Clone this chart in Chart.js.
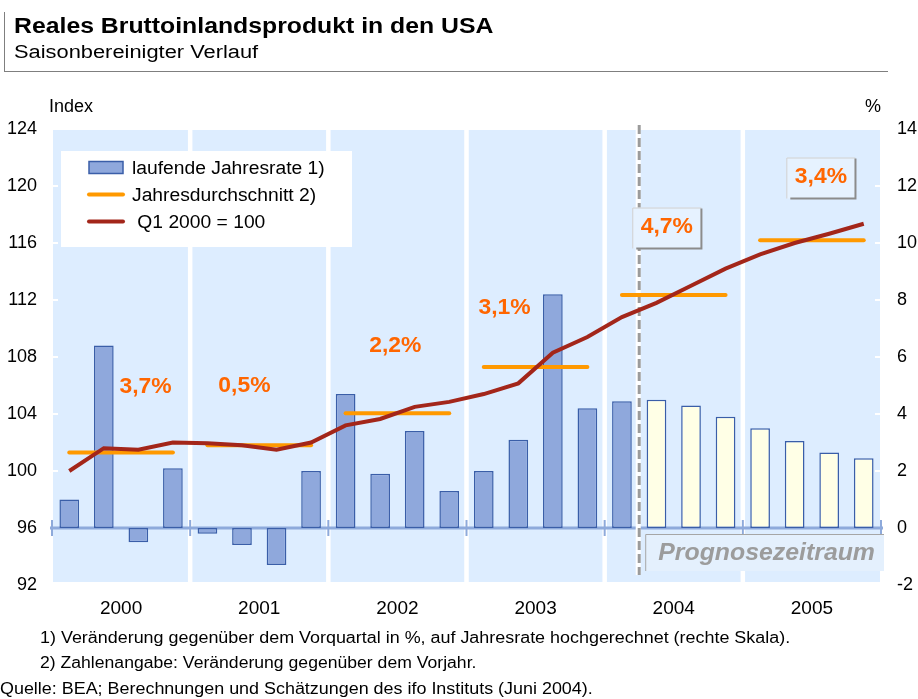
<!DOCTYPE html>
<html><head><meta charset="utf-8">
<script src="https://cdn.jsdelivr.net/npm/chart.js@4.4.1/dist/chart.umd.min.js"></script>
<style>
html,body{margin:0;padding:0;background:#fff;}
#wrap{position:relative;width:918px;height:699px;overflow:hidden;font-family:"Liberation Sans",Arial,sans-serif;}
#c{position:absolute;left:0;top:0;}
.t{position:absolute;white-space:nowrap;line-height:1;transform-origin:0 0;color:#000;}
.ln{position:absolute;background:#7f7f7f;}
</style></head><body>
<div id="wrap">
<canvas id="c" width="918" height="699"></canvas>
<div class="ln" style="left:4px;top:12px;width:1px;height:60px;"></div>
<div class="ln" style="left:4px;top:71px;width:884px;height:1px;"></div>
<div class="t" id="title" style="left:14px;top:14.5px;font-size:22px;font-weight:bold;">Reales Bruttoinlandsprodukt in den USA</div>
<div class="t" id="sub" style="left:14px;top:43px;font-size:18px;">Saisonbereinigter Verlauf</div>
<div class="t" id="lIdx" style="left:49px;top:97px;font-size:18px;">Index</div>
<div class="t" id="lPct" style="left:865px;top:97px;font-size:18px;">%</div>
<div class="t" id="f1" style="left:40px;top:630px;font-size:16px;">1) Veränderung gegenüber dem Vorquartal in %, auf Jahresrate hochgerechnet (rechte Skala).</div>
<div class="t" id="f2" style="left:40px;top:655px;font-size:16px;">2) Zahlenangabe: Veränderung gegenüber dem Vorjahr.</div>
<div class="t" id="f3" style="left:0px;top:681px;font-size:16px;">Quelle: BEA; Berechnungen und Schätzungen des ifo Instituts (Juni 2004).</div>
</div>
<script>
// ---- data ----
const quarters = ['Q1 2000','Q2 2000','Q3 2000','Q4 2000','Q1 2001','Q2 2001','Q3 2001','Q4 2001',
  'Q1 2002','Q2 2002','Q3 2002','Q4 2002','Q1 2003','Q2 2003','Q3 2003','Q4 2003',
  'Q1 2004','Q2 2004','Q3 2004','Q4 2004','Q1 2005','Q2 2005','Q3 2005','Q4 2005'];
const years = ['2000','2001','2002','2003','2004','2005'];
const growthRate = [1.0, 6.4, -0.5, 2.1, -0.2, -0.6, -1.3, 2.0, 4.7, 1.9, 3.4, 1.3, 2.0, 3.1, 8.2, 4.2, 4.45, 4.5, 4.3, 3.9, 3.5, 3.05, 2.65, 2.45];
const forecastStart = 17;
const indexQ1_2000 = [100.0, 101.6, 101.5, 102.0, 101.95, 101.8, 101.5, 102.0, 103.2, 103.65, 104.5, 104.85, 105.4, 106.15, 108.3, 109.4, 110.8, 111.8, 113.0, 114.2, 115.2, 116.0, 116.65, 117.35];
const annualAvg = [101.3, 101.8, 104.05, 107.3, 112.35, 116.2];
const annualGrowthText = ['3,7%','0,5%','2,2%','3,1%','4,7%','3,4%'];
const annualGrowthQ = [2.21, 5.07, 9.44, 12.6, 17.3, 21.76];
const annualGrowthY = [105.9, 105.95, 108.8, 111.44, 117.12, 120.63];
const annualGrowthBoxed = [false, false, false, false, true, true];
const leftTicks = {min: 92, max: 124, step: 4};
const rightTicks = {min: -2, max: 14, step: 2};
const forecastLabel = 'Prognosezeitraum';

// ---- styles ----
const FONT = '"Liberation Sans", Arial, sans-serif';
const BAR = '#8fa8dc', BARB = '#3a5ea8', FORE = '#ffffe6', ORANGE = '#ff9900', RED = '#a3261a';
const BAND = '#ddedff', AXIS = '#8eaadb', PCT = '#ff6600';

// fit HTML texts horizontally
function fit(id, w){ const el=document.getElementById(id); el.style.transform='scaleX('+(w/el.offsetWidth)+')'; }
function scl(id, k){ document.getElementById(id).style.transform='scaleX('+k+')'; }
fit('title', 479); fit('sub', 244);
scl('f1', 1.12); scl('f2', 1.1); scl('f3', 1.12);

const avgQ = [];
annualAvg.forEach(v => { for (let k=0;k<4;k++) avgQ.push(v); });

function sText(ctx, txt, x, y, font, color, k){
  ctx.save(); ctx.font = font; ctx.fillStyle = color; ctx.textBaseline='middle'; ctx.textAlign='left';
  const w = ctx.measureText(txt).width * k;
  ctx.translate(x - w/2, y); ctx.scale(k,1); ctx.fillText(txt,0,0); ctx.restore();
  return w;
}

const bgPlugin = {
  id:'bg',
  beforeDatasetsDraw(chart){
    const ctx = chart.ctx, a = chart.chartArea, x = chart.scales.x, y1 = chart.scales.y1, y = chart.scales.y;
    const step = x.getPixelForValue(1) - x.getPixelForValue(0);
    ctx.save();
    ctx.fillStyle = BAND;
    for (let i=0;i<years.length;i++){
      const x0 = x.getPixelForValue(i*4) - step/2, x1 = x.getPixelForValue(i*4+3) + step/2;
      const l = i===0 ? x0+1 : x0+2.25, r = i===years.length-1 ? x1-1 : x1-2.25;
      ctx.fillRect(l, a.top+1, r-l, a.bottom-4-a.top);
    }
    // small white inner ticks
    ctx.strokeStyle='#fff'; ctx.lineWidth=2;
    for (let v=leftTicks.min+leftTicks.step; v<leftTicks.max; v+=leftTicks.step){
      const py = Math.round(y.getPixelForValue(v));
      ctx.beginPath(); ctx.moveTo(a.left, py); ctx.lineTo(a.left+6, py); ctx.stroke();
      ctx.beginPath(); ctx.moveTo(a.right-6, py); ctx.lineTo(a.right, py); ctx.stroke();
    }
    // zero axis
    const y0 = y1.getPixelForValue(0);
    ctx.strokeStyle = AXIS; ctx.lineWidth = 3;
    ctx.beginPath(); ctx.moveTo(a.left-2, y0); ctx.lineTo(a.right+2, y0); ctx.stroke();
    ctx.lineWidth = 2;
    for (let i=0;i<=years.length;i++){
      const bx = x.getPixelForValue(i*4) - step/2;
      ctx.beginPath(); ctx.moveTo(bx, y0-8); ctx.lineTo(bx, y0+8); ctx.stroke();
    }
    // forecast divider
    const xd = (x.getPixelForValue(forecastStart-1) + x.getPixelForValue(forecastStart))/2;
    ctx.strokeStyle='#fff'; ctx.lineWidth=5;
    ctx.beginPath(); ctx.moveTo(xd-1, a.top-4); ctx.lineTo(xd-1, y0+47); ctx.stroke();
    ctx.strokeStyle='#9b9b9b'; ctx.lineWidth=3; ctx.setLineDash([9,4]);
    ctx.beginPath(); ctx.moveTo(xd, a.top-4); ctx.lineTo(xd, y0+47); ctx.stroke();
    ctx.setLineDash([]);
    ctx.restore();
  }
};

const fgPlugin = {
  id:'fg',
  afterDatasetsDraw(chart){
    const ctx = chart.ctx, a = chart.chartArea, x = chart.scales.x, y = chart.scales.y, y1 = chart.scales.y1;
    const step = x.getPixelForValue(1) - x.getPixelForValue(0);
    ctx.save();
    // annual growth labels
    const pf = 'bold 22px ' + FONT, pk = 1.04;
    for (let i=0;i<annualGrowthText.length;i++){
      const cx = x.getPixelForValue(0) + annualGrowthQ[i]*step, cy = y.getPixelForValue(annualGrowthY[i]);
      if (annualGrowthBoxed[i]){
        ctx.font = pf; const w = ctx.measureText(annualGrowthText[i]).width*pk + 17, h = 41;
        const l = cx - w/2, t = cy - h/2 + 1;
        ctx.fillStyle = '#e6f2ff'; ctx.fillRect(l, t, w, h);
        ctx.strokeStyle = '#d0d0d0'; ctx.lineWidth = 1;
        ctx.beginPath(); ctx.moveTo(l+0.5, t+h); ctx.lineTo(l+0.5, t+0.5); ctx.lineTo(l+w, t+0.5); ctx.stroke();
        ctx.strokeStyle = '#8c8c8c'; ctx.lineWidth = 2;
        ctx.beginPath(); ctx.moveTo(l+w, t+1); ctx.lineTo(l+w, t+h); ctx.lineTo(l+4, t+h); ctx.stroke();
      }
      sText(ctx, annualGrowthText[i], cx, cy, pf, PCT, pk);
    }
    // forecast box
    const y0 = y1.getPixelForValue(0);
    const xd = (x.getPixelForValue(forecastStart-1) + x.getPixelForValue(forecastStart))/2;
    const bl = xd + 6, br = a.right + 3, bt = y0 + 6, bb = y0 + 43;
    ctx.fillStyle = '#e4f0fd'; ctx.fillRect(bl, bt, br-bl, bb-bt);
    ctx.strokeStyle = '#a6a6a6'; ctx.lineWidth = 1;
    ctx.beginPath(); ctx.moveTo(bl+0.5, bb); ctx.lineTo(bl+0.5, bt+0.5); ctx.lineTo(br, bt+0.5); ctx.stroke();
    sText(ctx, forecastLabel, (bl+br)/2 + 2, (bt+bb)/2 + 1, 'italic bold 23px ' + FONT, '#9c9c9c', 1.08);
    // legend
    const lx = a.left + 9, ly = a.top + 22, lw = 291, lh = 96;
    ctx.fillStyle = '#fff'; ctx.fillRect(lx, ly, lw, lh);
    const ds = chart.data.datasets;
    const order = [0,1,2];
    order.forEach((di, r) => {
      const d = ds[di]; const ry = ly + 16.5 + 27*r;
      if (d.type === 'bar' || !d.type){
        ctx.fillStyle = BAR; ctx.fillRect(lx+28, ry-6, 34, 12);
        ctx.strokeStyle = BARB; ctx.lineWidth = 1.5; ctx.strokeRect(lx+28, ry-6, 34, 12);
      } else {
        ctx.strokeStyle = d.borderColor; ctx.lineWidth = 4; ctx.lineCap='round';
        ctx.beginPath(); ctx.moveTo(lx+28, ry); ctx.lineTo(lx+62, ry); ctx.stroke();
      }
      ctx.save(); ctx.font = '18px ' + FONT; ctx.fillStyle = '#000'; ctx.textBaseline='middle';
      ctx.translate(lx+71, ry+2); ctx.scale(1.07,1); ctx.fillText(d.label, 0, 0); ctx.restore();
    });
    ctx.restore();
  }
};

const chart = new Chart(document.getElementById('c'), {
  type: 'bar',
  data: {
    labels: quarters,
    datasets: [
      {type:'bar', label:'laufende Jahresrate 1)', data: growthRate, xAxisID:'x', yAxisID:'y1',
        backgroundColor: growthRate.map((v,i)=> i<forecastStart ? BAR : FORE),
        borderColor: BARB, borderWidth: 1.5, borderSkipped: false,
        barPercentage: 0.57, categoryPercentage: 1, order: 2},
      {type:'line', label:'Jahresdurchschnitt 2)', data: avgQ, xAxisID:'x', yAxisID:'y',
        borderColor: ORANGE, borderWidth: 4, pointRadius: 0, tension: 0, borderCapStyle:'round',
        segment: {borderColor: c => (c.p0DataIndex % 4 === 3) ? 'rgba(0,0,0,0)' : ORANGE}, order: 1},
      {type:'line', label:' Q1 2000 = 100', data: indexQ1_2000, xAxisID:'x', yAxisID:'y',
        borderColor: RED, borderWidth: 4, pointRadius: 0, tension: 0, order: 0}
    ]
  },
  options: {
    responsive: false, animation: false, devicePixelRatio: 1,
    layout: {padding: {top: 129, left: 0, right: 0, bottom: 0}},
    plugins: {legend: {display: false}, tooltip: {enabled: false}},
    scales: {
      x: {type:'category', display: false, offset: true, grid: {offset: true}},
      xYear: {type:'category', labels: years, position:'bottom', offset: true,
        grid: {display: false, drawTicks: false}, border: {display: false},
        ticks: {color:'#000', font:{size:19, family: FONT}, padding: 12, maxRotation: 0, autoSkip: false},
        afterFit: s => { s.height = 114; }},
      y: {position:'left', min: leftTicks.min, max: leftTicks.max,
        ticks: {stepSize: leftTicks.step, color:'#000', font:{size:18, family: FONT}, padding: 15},
        grid: {display: false, drawTicks: false}, border: {display: false},
        afterFit: s => { s.width = 52; }},
      y1: {position:'right', min: rightTicks.min, max: rightTicks.max,
        ticks: {stepSize: rightTicks.step, color:'#000', font:{size:18, family: FONT}, padding: 16},
        grid: {display: false, drawTicks: false}, border: {display: false},
        afterFit: s => { s.width = 37; }}
    }
  },
  plugins: [bgPlugin, fgPlugin]
});
</script>
</body></html>
